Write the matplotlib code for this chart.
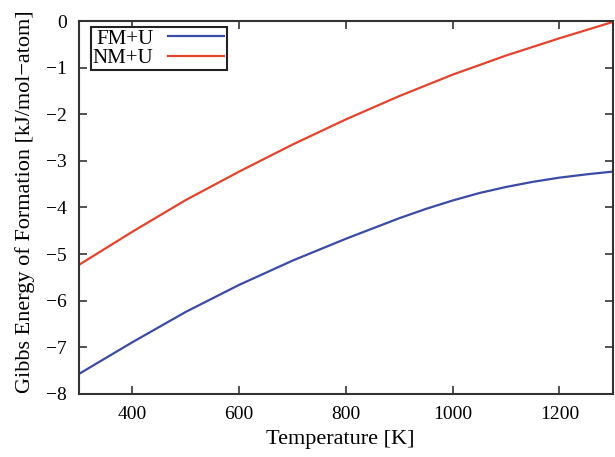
import matplotlib.pyplot as plt

T_fm = [300, 400, 500, 600, 700, 800, 900, 950, 1000, 1050, 1100, 1150, 1200, 1250, 1300]
fm_u = [-7.57, -6.89, -6.24, -5.66, -5.14, -4.67, -4.23, -4.03, -3.85, -3.69, -3.56, -3.45, -3.36, -3.29, -3.23]
T_nm = [300, 400, 500, 600, 700, 800, 900, 1000, 1100, 1200, 1300]
nm_u = [-5.23, -4.52, -3.84, -3.23, -2.65, -2.11, -1.61, -1.15, -0.74, -0.37, -0.02]

plt.rcParams['font.family'] = ['Liberation Serif', 'DejaVu Serif']

fig = plt.figure(figsize=(6.15, 4.57), dpi=100)
ax = fig.add_axes([0.1285, 0.138, 0.868, 0.816])

ax.plot(T_fm, fm_u, color='#3b4ba6', lw=1.6, label='FM+U')
ax.plot(T_nm, nm_u, color='#e4432d', lw=1.6, label='NM+U')

ax.set_xlim(300, 1300)
ax.set_ylim(-8, 0)
ax.set_xticks([400, 600, 800, 1000, 1200])
ax.set_yticks([-8, -7, -6, -5, -4, -3, -2, -1, 0])
ax.set_yticklabels(['\u22128', '\u22127', '\u22126', '\u22125', '\u22124', '\u22123', '\u22122', '\u22121', '0'])
ax.tick_params(direction='in', length=6, width=1.2, top=True, right=True,
               labelsize=14, pad=9, color='#333333')
for s in ax.spines.values():
    s.set_linewidth(1.5)
    s.set_color('#333333')

ax.set_xlabel('Temperature [K]', fontsize=16)
ax.xaxis.set_label_coords(0.489, -0.097)
ax.set_ylabel('Gibbs Energy of Formation [kJ/mol\u2212atom]', fontsize=16)
ax.yaxis.set_label_coords(-0.082, 0.515)

leg = ax.legend(loc='upper left', fontsize=15, markerfirst=False, handlelength=2.7,
                borderpad=0.1, labelspacing=0.0, handletextpad=0.7, borderaxespad=0.0,
                fancybox=False, framealpha=1, edgecolor='#222222',
                bbox_to_anchor=(0.022, 0.984))
leg.get_frame().set_linewidth(1.5)

fig.savefig('out.png', dpi=100)
